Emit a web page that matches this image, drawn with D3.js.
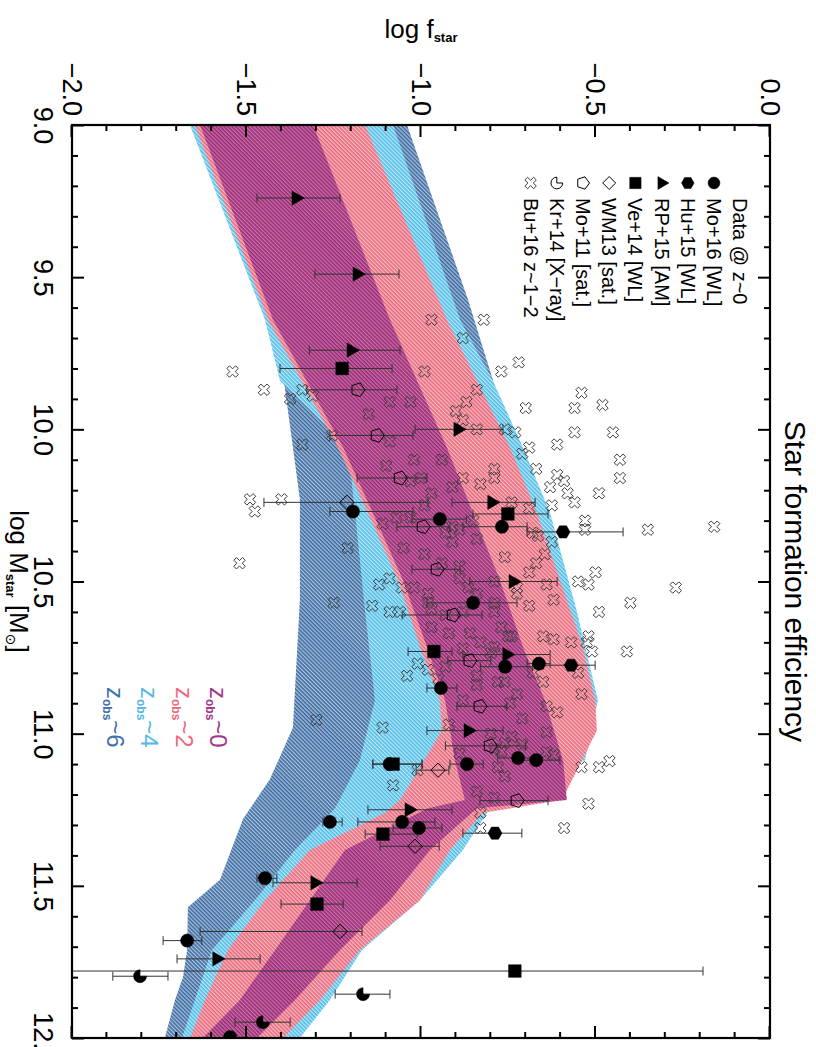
<!DOCTYPE html>
<html>
<head>
<meta charset="utf-8">
<script src="https://cdn.jsdelivr.net/npm/d3@7"></script>
<style>
  body { margin: 0; background: #fff; }
  text { font-family: "Liberation Sans", Arial, sans-serif; }
</style>
</head>
<body>
<svg id="chart" width="816" height="1047"></svg>
<script>
// ---------------- data ----------------
// model bands: [log Mstar, lower log fstar, upper log fstar]
const bandZ6 = [
  [9.00,-1.662,-1.040],[9.575,-1.424,-0.865],[10.23,-1.347,-0.688],[10.56,-1.347,-0.602],
  [10.98,-1.367,-0.559],[11.15,-1.433,-0.659],[11.28,-1.510,-0.860],[11.48,-1.576,-1.003],
  [11.57,-1.668,-1.060],[11.71,-1.670,-1.203],[11.80,-1.682,-1.261],[11.875,-1.705,-1.318],
  [12.00,-1.734,-1.375]
];
const bandZ4 = [
  [9.00,-1.662,-1.080],[9.64,-1.447,-0.888],[9.84,-1.404,-0.794],[10.06,-1.209,-0.708],
  [10.275,-1.189,-0.630],[10.60,-1.160,-0.553],[10.89,-1.132,-0.493],[11.087,-1.175,-0.530],
  [11.245,-1.246,-0.802],[11.382,-1.361,-0.880],[11.547,-1.476,-1.003],[11.711,-1.599,-1.169],
  [11.875,-1.648,-1.261],[12.00,-1.685,-1.347]
];
const bandZ2 = [
  [9.00,-1.648,-1.160],[9.64,-1.438,-0.926],[10.06,-1.238,-0.745],[10.275,-1.152,-0.668],
  [10.495,-1.066,-0.602],[10.715,-1.003,-0.536],[10.89,-0.946,-0.501],[10.99,-0.940,-0.496],
  [11.218,-1.060,-0.596],[11.26,-1.103,-0.822],[11.382,-1.318,-0.917],[11.547,-1.447,-1.003],
  [11.711,-1.553,-1.175],[11.875,-1.619,-1.289],[12.00,-1.662,-1.395]
];
const bandZ0 = [
  [9.00,-1.633,-1.309],[9.64,-1.424,-1.089],[10.06,-1.223,-0.926],[10.275,-1.138,-0.851],
  [10.495,-1.052,-0.774],[10.715,-0.983,-0.708],[10.89,-0.931,-0.645],[11.087,-0.903,-0.593],
  [11.218,-0.874,-0.582],[11.245,-0.980,-0.840],[11.382,-1.218,-0.974],[11.547,-1.318,-1.089],
  [11.711,-1.418,-1.232],[11.875,-1.519,-1.361],[12.00,-1.625,-1.470]
];

// observations: [log Mstar, log fstar, error low, error high]
const mo16 = [
  [10.27,-1.195,-1.261,-1.023],[10.295,-0.946,-1.026,-0.870],[10.32,-0.768,-0.880,-0.696],
  [10.57,-0.851,-0.983,-0.725],[10.78,-0.759,-0.830,-0.680],[10.77,-0.662,-0.696,-0.630],
  [10.85,-0.943,-0.983,-0.897],[11.10,-0.868,-0.917,-0.822],[11.08,-0.722,-0.780,-0.660],
  [11.087,-0.670,-0.720,-0.602],[11.10,-1.090,-1.138,-0.997],[11.29,-1.261,-1.281,-1.226],
  [11.29,-1.054,-1.181,-0.960],[11.31,-1.006,-1.080,-0.940],[11.475,-1.447,-1.470,-1.413],
  [11.68,-1.670,-1.739,-1.628],[11.997,-1.547,-1.547,-1.547]
];
const hu15 = [
  [10.337,-0.593,-0.696,-0.421],[10.775,-0.570,-0.650,-0.501],[11.327,-0.788,-0.880,-0.711]
];
const rp15 = [
  [9.24,-1.358,-1.470,-1.232],[9.49,-1.183,-1.304,-1.063],[9.74,-1.200,-1.320,-1.060],
  [10.00,-0.894,-1.017,-0.765],[10.24,-0.797,-0.911,-0.673],[10.50,-0.736,-0.860,-0.610],
  [10.74,-0.754,-0.880,-0.630],[10.99,-0.865,-0.983,-0.765],[11.25,-1.034,-1.152,-0.911],
  [11.49,-1.304,-1.424,-1.183],[11.74,-1.585,-1.699,-1.461]
];
const ve14 = [
  [9.80,-1.226,-1.404,-1.083],[10.278,-0.751,-0.851,-0.636],[10.73,-0.963,-1.037,-0.911],
  [11.10,-1.080,-1.138,-0.997],[11.33,-1.109,-1.160,-1.011],[11.56,-1.298,-1.401,-1.223],
  [11.78,-0.731,-2.500,-0.192]
];
const wm13 = [
  [10.24,-1.212,-1.450,-0.980],[11.12,-0.951,-1.014,-0.920],[11.37,-1.017,-1.117,-0.948],
  [11.65,-1.232,-1.633,-1.169]
];
const mo11 = [
  [9.87,-1.181,-1.327,-1.069],[10.02,-1.126,-1.261,-1.023],[10.16,-1.060,-1.183,-0.983],
  [10.32,-0.994,-1.069,-0.917],[10.46,-0.954,-1.026,-0.888],[10.61,-0.908,-1.054,-0.825],
  [10.76,-0.860,-0.923,-0.800],[10.91,-0.831,-0.897,-0.754],[11.04,-0.802,-0.930,-0.700],
  [11.22,-0.725,-0.831,-0.636]
];
const kr14 = [
  [11.797,-1.805,-1.883,-1.725],[11.856,-1.166,-1.246,-1.089],[11.948,-1.453,-1.533,-1.375]
];
// Bu+16 z~1-2 sample: [log Mstar, log fstar]
const bu16 = [
  [9.64,-0.97],[9.64,-0.82],[9.70,-0.88],[9.78,-0.72],[9.81,-0.77],[9.81,-0.99],
  [9.92,-0.48],[10.01,-0.45],[10.01,-0.56],[9.93,-0.56],
  [9.88,-0.54],[9.93,-0.70],[9.87,-0.84],[9.91,-0.87],[9.94,-0.90],[9.95,-1.15],[9.91,-1.09],
  [9.91,-1.03],[10.00,-0.84],[9.97,-0.88],[10.00,-0.76],[10.01,-0.73],[10.06,-0.69],[10.08,-0.71],
  [10.05,-0.61],[10.10,-0.43],[10.16,-0.43],[10.13,-0.67],[10.15,-0.61],[10.17,-0.59],[10.21,-0.58],
  [10.19,-0.63],[10.25,-0.625],[10.24,-0.56],[10.21,-0.49],[10.13,-0.79],[10.16,-0.79],[10.18,-0.83],
  [10.16,-0.88],[10.19,-0.91],[10.10,-0.94],[10.10,-1.02],[10.12,-1.10],[10.04,-1.09],[10.17,-1.03],
  [10.16,-1.00],[10.21,-0.97],[10.25,-0.99],[10.31,-1.11],[10.29,-1.07],[10.29,-1.03],[10.32,-0.91],
  [10.33,-0.89],[10.30,-0.85],[10.34,-0.93],[10.37,-0.91],[10.36,-0.84],[10.24,-0.74],[10.26,-0.69],
  [10.34,-0.68],[10.35,-0.665],[10.37,-0.625],[10.30,-0.53],[10.33,-0.53],[10.33,-0.35],[10.39,-1.21],
  [10.39,-1.05],[10.41,-0.99],[10.42,-0.76],[10.41,-0.645],[10.44,-0.67],[10.47,-0.69],[10.44,-0.94],
  [10.45,-0.89],[10.49,-0.89],[10.47,-0.50],[10.50,-0.55],[10.51,-0.52],[10.57,-0.40],[10.60,-0.49],
  [10.50,-0.79],[10.52,-0.725],[10.51,-0.64],[10.49,-1.09],[10.51,-1.12],[10.52,-1.055],[10.52,-1.02],
  [10.52,-0.865],[10.54,-0.84],[10.54,-0.98],[10.57,-0.98],[10.58,-1.14],[10.60,-1.09],[10.60,-1.06],
  [10.57,-1.25],[10.59,-0.97],[10.61,-0.93],[10.60,-0.88],[10.57,-0.79],[10.54,-0.725],[10.58,-0.69],
  [10.56,-0.62],[10.60,-0.79],[10.65,-0.77],[10.65,-0.97],[10.67,-0.92],[10.67,-0.86],[10.70,-0.83],
  [10.68,-0.75],[10.68,-0.74],[10.68,-0.65],[10.69,-0.62],[10.70,-0.57],[10.68,-0.52],[10.70,-0.525],
  [10.73,-0.51],[10.73,-0.41],[10.715,-0.79],[10.735,-0.80],[10.72,-0.88],[10.78,-0.93],[10.79,-0.98],
  [10.77,-1.01],[10.81,-1.04],[10.82,-0.95],[10.81,-0.84],[10.84,-0.84],[10.83,-0.78],[10.83,-0.76],
  [10.80,-0.68],[10.83,-0.65],[10.80,-0.55],[10.87,-0.54],[10.87,-0.725],
  [9.81,-1.54],[9.87,-1.45],[9.90,-1.375],[9.87,-1.34],[9.89,-1.31],[10.05,-1.34],[10.02,-1.255],
  [10.23,-1.49],[10.23,-1.40],[10.27,-1.476],[10.44,-1.52],
  [10.955,-1.30],[10.98,-1.11],[10.89,-0.88],[10.90,-0.745],[10.91,-0.64],[10.93,-0.61],[10.95,-0.71],
  [10.995,-0.64],[11.00,-0.80],[11.01,-0.74],[11.03,-0.76],[11.035,-0.71],[11.05,-0.79],[11.06,-0.77],
  [11.06,-0.64],[11.07,-0.62],[11.065,-0.89],[11.11,-0.78],[11.14,-0.76],[10.97,-0.92],[11.12,-1.01],
  [11.17,-1.08],[11.19,-0.84],[11.21,-0.79],[11.26,-0.83],[11.31,-0.83],[11.11,-0.54],[11.11,-0.49],
  [11.09,-0.46],[11.23,-0.52],[11.31,-0.59],[10.52,-0.27],[10.32,-0.16]
];

// axis ticks and labels
const massMajor = [9.0, 9.5, 10.0, 10.5, 11.0, 11.5, 12.0];
const massMinor = [9.1,9.2,9.3,9.4,9.6,9.7,9.8,9.9,10.1,10.2,10.3,10.4,10.6,10.7,10.8,10.9,
                   11.1,11.2,11.3,11.4,11.6,11.7,11.8,11.9];
const fMajor = [-2.0, -1.5, -1.0, -0.5, 0.0];
const fMinor = [-1.9,-1.8,-1.7,-1.6,-1.4,-1.3,-1.2,-1.1,-0.9,-0.8,-0.7,-0.6,-0.4,-0.3,-0.2,-0.1];

const legendLabels = ["Mo+16 [WL]","Hu+15 [WL]","RP+15 [AM]","Ve+14 [WL]","WM13 [sat.]",
                      "Mo+11 [sat.]","Kr+14 [X\u2212ray]","Bu+16 z~1\u22122"];
const bandLabels = ["0","2","4","6"];

// ---------------- layout ----------------
// the panel is laid out with mass along x and efficiency along y,
// then turned a quarter turn clockwise
const W = 913, H = 698;
const svg = d3.select("#chart");
const g = svg.append("g").attr("transform", "translate(770,125) rotate(90)");

const x = d3.scaleLinear().domain([9, 12]).range([0, W]);
const y = d3.scaleLinear().domain([-2, 0]).range([H, 0]);

const defs = svg.append("defs");
defs.append("clipPath").attr("id", "plotclip")
  .append("rect").attr("x", 0).attr("y", 0).attr("width", W).attr("height", H);

// hatched fills for the model bands
const bandStyles = [
  {id: "hz6", line: "#3a679c", bg: "#a9c2de", data: bandZ6, label: "#3f70ae"},
  {id: "hz4", line: "#48bbe7", bg: "#c0e8f7", data: bandZ4, label: "#56b8e2"},
  {id: "hz2", line: "#e8657a", bg: "#f8bcc3", data: bandZ2, label: "#ec6a80"},
  {id: "hz0", line: "#922a79", bg: "#d070a3", data: bandZ0, label: "#a2358a"}
];
bandStyles.forEach(s => {
  const p = defs.append("pattern").attr("id", s.id)
    .attr("patternUnits", "userSpaceOnUse")
    .attr("width", 2.8).attr("height", 10)
    .attr("patternTransform", "rotate(45)");
  p.append("rect").attr("width", 2.8).attr("height", 10).attr("fill", s.bg);
  p.append("rect").attr("width", 1.5).attr("height", 10).attr("fill", s.line);
});

const plot = g.append("g").attr("clip-path", "url(#plotclip)");

const area = d3.area()
  .x(d => x(d[0]))
  .y0(d => y(d[1]))
  .y1(d => y(d[2]));

bandStyles.forEach(s => {
  plot.append("path").attr("d", area(s.data)).attr("fill", `url(#${s.id})`);
});

// ---------------- markers ----------------
function crossPath(a, L) {
  const pts = [[a,-L],[a,-a],[L,-a],[L,a],[a,a],[a,L],[-a,L],[-a,a],[-L,a],[-L,-a],[-a,-a],[-a,-L]];
  const c = Math.SQRT1_2;
  return "M" + pts.map(([px, py]) => [(px - py) * c, (px + py) * c].map(v => v.toFixed(2)).join(",")).join("L") + "Z";
}
function polyPath(n, r, rot) {
  const pts = d3.range(n).map(i => {
    const a = rot + i * 2 * Math.PI / n;
    return [r * Math.cos(a), r * Math.sin(a)];
  });
  return "M" + pts.map(p => p.map(v => v.toFixed(2)).join(",")).join("L") + "Z";
}
// shapes drawn in the upright frame of the panel
const shapes = {
  circle: s => d3.arc()({innerRadius: 0, outerRadius: 6.6 * s, startAngle: 0, endAngle: 2 * Math.PI}),
  hexagon: s => polyPath(6, 7 * s, Math.PI / 6),
  triangle: s => polyPath(3, 8.2 * s, -Math.PI / 2),
  square: s => `M${-6.3*s},${-6.3*s}h${12.6*s}v${12.6*s}h${-12.6*s}Z`,
  diamond: s => polyPath(4, 7.2 * s, -Math.PI / 2),
  pentagon: s => polyPath(5, 7.2 * s, -Math.PI / 2),
  pacman: s => d3.arc()({innerRadius: 0, outerRadius: 6.5 * s, startAngle: 0, endAngle: 1.5 * Math.PI}),
  cross: s => crossPath(1.9 * s, 6.2 * s)
};

const series = [
  {data: mo16, shape: "circle", fill: "#000"},
  {data: hu15, shape: "hexagon", fill: "#000"},
  {data: rp15, shape: "triangle", fill: "#000"},
  {data: ve14, shape: "square", fill: "#000"},
  {data: wm13, shape: "diamond", fill: "none"},
  {data: mo11, shape: "pentagon", fill: "none"},
  {data: kr14, shape: "pacman", fill: "#000"},
  {data: bu16, shape: "cross", fill: "none"}
];

// Bu+16 crosses first, underneath the error bars and other symbols
plot.append("g").selectAll("path").data(bu16).join("path")
  .attr("d", shapes.cross(1))
  .attr("transform", d => `translate(${x(d[0])},${y(d[1])})`)
  .attr("fill", "none").attr("stroke", "#3c3c3c").attr("stroke-width", 1);

// error bars
const errData = series.filter(s => s.shape !== "cross")
  .flatMap(s => s.data.filter(d => d[2] !== d[3]));
const eb = plot.append("g").attr("stroke", "#333").attr("stroke-width", 1).attr("fill", "none");
eb.selectAll("path").data(errData).join("path")
  .attr("d", d => {
    const cx = x(d[0]), y0 = y(d[2]), y1 = y(d[3]);
    return `M${cx},${y0}V${y1}M${cx-4.5},${y0}H${cx+4.5}M${cx-4.5},${y1}H${cx+4.5}`;
  });

series.filter(s => s.shape !== "cross").forEach(s => {
  plot.append("g").selectAll("path").data(s.data).join("path")
    .attr("d", shapes[s.shape](1))
    .attr("transform", d => `translate(${x(d[0])},${y(d[1])})`)
    .attr("fill", s.fill)
    .attr("stroke", "#000")
    .attr("stroke-width", s.fill === "none" ? 1 : 0.5);
});

// ---------------- axes ----------------
const fmt = d3.format(".1f");
function styleAxis(sel) {
  sel.selectAll("path.domain").remove();
  sel.selectAll("line").attr("stroke", "#000").attr("stroke-width", 2);
  sel.selectAll("text").attr("fill", "#000").style("font-size", "27px")
    .style("font-family", "'Liberation Sans', Arial, sans-serif");
}
g.append("g").attr("transform", `translate(0,${H})`)
  .call(d3.axisBottom(x).tickValues(massMajor).tickFormat(fmt).tickSizeInner(-12).tickSizeOuter(0).tickPadding(19))
  .call(styleAxis);
g.append("g").attr("transform", `translate(0,${H})`)
  .call(d3.axisBottom(x).tickValues(massMinor).tickFormat("").tickSizeInner(-6).tickSizeOuter(0))
  .call(styleAxis);
g.append("g")
  .call(d3.axisTop(x).tickValues(massMajor).tickFormat("").tickSizeInner(-12).tickSizeOuter(0))
  .call(styleAxis);
g.append("g")
  .call(d3.axisTop(x).tickValues(massMinor).tickFormat("").tickSizeInner(-6).tickSizeOuter(0))
  .call(styleAxis);
g.append("g")
  .call(d3.axisLeft(y).tickValues(fMajor).tickFormat(fmt).tickSizeInner(-12).tickSizeOuter(0).tickPadding(9))
  .call(styleAxis);
g.append("g")
  .call(d3.axisLeft(y).tickValues(fMinor).tickFormat("").tickSizeInner(-6).tickSizeOuter(0))
  .call(styleAxis);
g.append("g").attr("transform", `translate(${W},0)`)
  .call(d3.axisRight(y).tickValues(fMajor).tickFormat("").tickSizeInner(-12).tickSizeOuter(0))
  .call(styleAxis);
g.append("g").attr("transform", `translate(${W},0)`)
  .call(d3.axisRight(y).tickValues(fMinor).tickFormat("").tickSizeInner(-6).tickSizeOuter(0))
  .call(styleAxis);

g.append("rect").attr("x", 0).attr("y", 0).attr("width", W).attr("height", H)
  .attr("fill", "none").attr("stroke", "#000").attr("stroke-width", 2.2);

// ---------------- titles ----------------
g.append("text").attr("x", W / 2).attr("y", -15).attr("text-anchor", "middle")
  .style("font-size", "30px").attr("fill", "#000")
  .text("Star formation efficiency");

const xt = g.append("text").attr("x", W / 2).attr("y", 760).attr("text-anchor", "middle")
  .style("font-size", "26px").attr("fill", "#000");
xt.append("tspan").text("log M");
xt.append("tspan").attr("baseline-shift", "-30%").style("font-size", "13px").style("font-weight", "bold").text("star");
xt.append("tspan").text(" [M");
xt.append("tspan").attr("baseline-shift", "-30%").style("font-size", "14px")
  .style("font-family", "'DejaVu Sans', sans-serif").text("\u2299");
xt.append("tspan").text("]");

const yt = g.append("text").attr("transform", `translate(-87,${H / 2}) rotate(-90)`)
  .attr("text-anchor", "middle").style("font-size", "26px").attr("fill", "#000");
yt.append("tspan").text("log f");
yt.append("tspan").attr("baseline-shift", "-30%").style("font-size", "13px").style("font-weight", "bold").text("star");

// ---------------- legend ----------------
const leg = g.append("g");
leg.append("text").attr("x", 73).attr("y", 30).attr("dy", "0.35em")
  .style("font-size", "20px").attr("fill", "#000").text("Data @ z~0");
legendLabels.forEach((lab, i) => {
  const ry = 56 + 26.2 * i;
  const s = series[i];
  const open = s.fill === "none" || s.shape === "pacman";
  leg.append("path").attr("d", shapes[s.shape](s.shape === "cross" ? 1 : 0.9))
    .attr("transform", `translate(58,${ry})`)
    .attr("fill", open ? "none" : "#000")
    .attr("stroke", s.shape === "cross" ? "#3c3c3c" : "#000")
    .attr("stroke-width", open ? 1 : 0.5);
  leg.append("text").attr("x", 73).attr("y", ry).attr("dy", "0.35em")
    .style("font-size", "20px").attr("fill", "#000").text(lab);
});

// redshift labels for the bands
bandLabels.forEach((z, i) => {
  const s = bandStyles[3 - i];
  const t = g.append("text").attr("x", 562).attr("y", 560 + 34.3 * i)
    .style("font-size", "24px").attr("fill", s.label);
  t.append("tspan").text("z");
  t.append("tspan").attr("baseline-shift", "-30%").style("font-size", "12px").style("font-weight", "bold").text("obs");
  t.append("tspan").text("~" + z);
});
</script>
</body>
</html>
